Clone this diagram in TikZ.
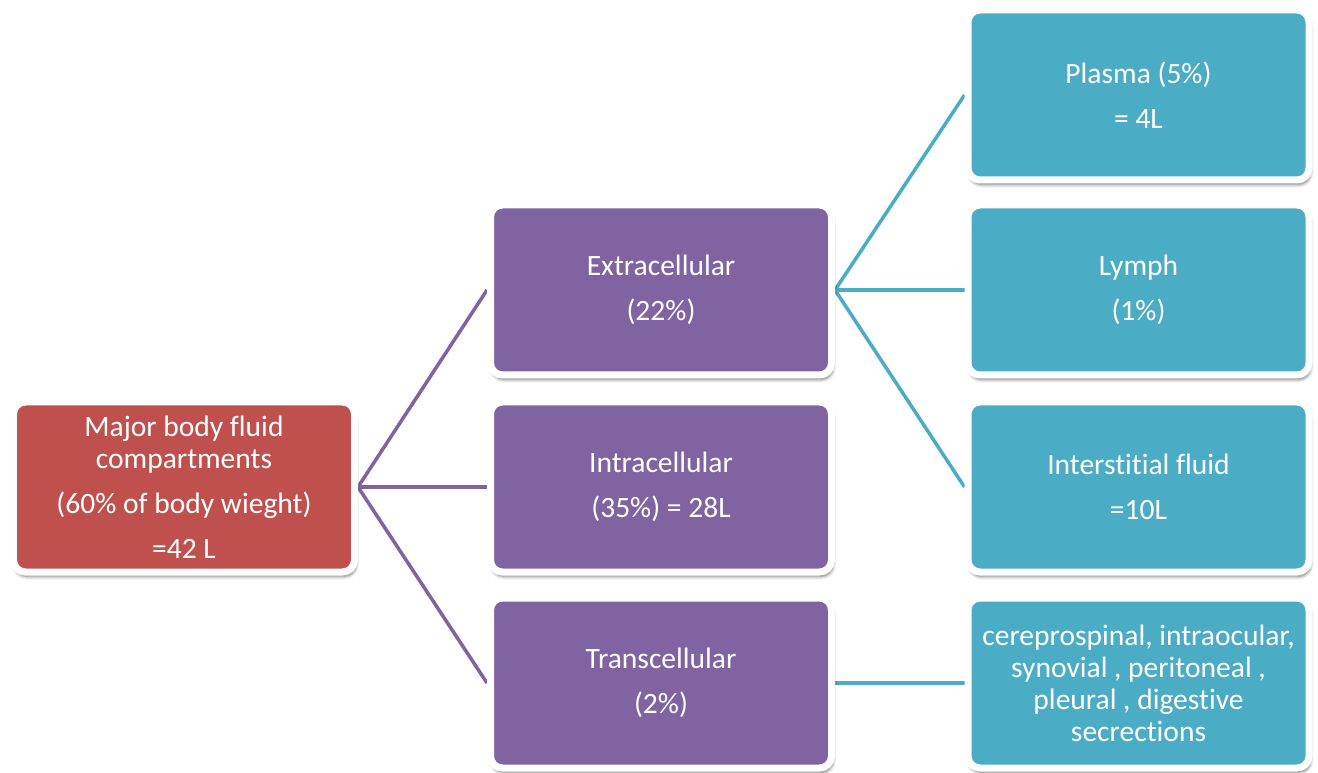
\documentclass[tikz,border=0pt]{standalone}
\usepackage{fontspec}
\setmainfont{Carlito}[Ligatures=NoCommon,Contextuals=NoAlternate]
\usetikzlibrary{shadows.blur,backgrounds}
\definecolor{rootred}{HTML}{C0504D}
\definecolor{midpurple}{HTML}{8064A2}
\definecolor{leafteal}{HTML}{4BACC6}
\begin{document}
\begin{tikzpicture}[
		box/.style={shape=rectangle,rounded corners=0.24cm,draw=white,line width=0.14cm,minimum width=6.82cm,minimum height=3.40cm,inner sep=0pt,text=white,align=center,font=\fontsize{16.8}{18.2}\selectfont,blur shadow={shadow xshift=0.03cm,shadow yshift=-0.09cm,shadow blur steps=6,shadow opacity=55}},
		purpleline/.style={draw=midpurple,line width=0.07cm},
		tealline/.style={draw=leafteal,line width=0.07cm}]
			\useasboundingbox (0,0) rectangle (26.36,15.44);

			\node[box,fill=rootred] (root) at (3.68,5.70) {Major body fluid\\compartments\\[7.3pt](60\% of body wieght)\\[7.3pt]=42 L};

			\node[box,fill=midpurple] (extra) at (13.22,9.64) {Extracellular\\[7.3pt](22\%)};
			\node[box,fill=midpurple] (intra) at (13.22,5.70) {Intracellular\\[7.3pt](35\%) = 28L};
			\node[box,fill=midpurple] (trans) at (13.22,1.78) {Transcellular\\[7.3pt](2\%)};

			\node[box,fill=leafteal] (plasma) at (22.77,13.54) {Plasma (5\%)\\[7.3pt]= 4L};
			\node[box,fill=leafteal] (lymph) at (22.77,9.64) {Lymph\\[7.3pt](1\%)};
			\node[box,fill=leafteal] (inter) at (22.77,5.70) {Interstitial fluid\\[7.3pt]=10L};
			\node[box,fill=leafteal] (secr) at (22.77,1.78) {cereprospinal, intraocular,\\synovial , peritoneal ,\\pleural , digestive\\secrections};

			\begin{pgfonlayer}{background}
			\path [purpleline] (root.east) edge (extra.west);
			\path [purpleline] (root.east) edge (intra.west);
			\path [purpleline] (root.east) edge (trans.west);

			\path [tealline] (extra.east) edge (plasma.west);
			\path [tealline] (extra.east) edge (lymph.west);
			\path [tealline] (extra.east) edge (inter.west);
			\path [tealline] (trans.east) edge (secr.west);
			\end{pgfonlayer}

		\end{tikzpicture}
\end{document}
